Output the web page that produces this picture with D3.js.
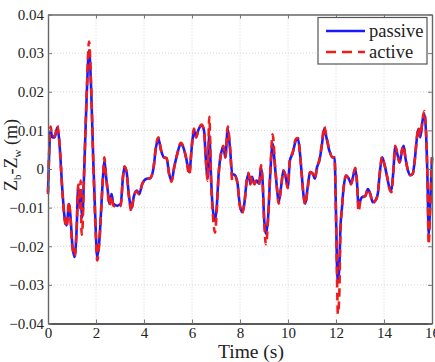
<!DOCTYPE html>
<html>
<head>
<meta charset="utf-8">
<script src="https://cdn.jsdelivr.net/npm/d3@7"></script>
<style>
  body { margin: 0; background: #fff; }
</style>
</head>
<body>
<div id="chart"></div>
<script>
// sample times (s)
var times = [0, 0.11, 0.18, 0.28, 0.39, 0.46, 0.6, 0.69, 0.78, 0.875, 0.94, 1.01, 1.11, 1.19, 1.26, 1.32, 1.36, 1.4, 1.43, 1.5,
  1.61, 1.71, 1.8, 1.89, 1.99, 2.05, 2.15, 2.22, 2.3, 2.35, 2.42, 2.49, 2.56, 2.65, 2.72, 2.89, 3.03, 3.125, 3.19, 3.28,
  3.35, 3.42, 3.47, 3.58, 3.7, 3.8, 3.93, 4.11, 4.25, 4.39, 4.5, 4.6, 4.71, 4.83, 4.94, 5.05, 5.15, 5.26, 5.39, 5.53,
  5.64, 5.75, 5.89, 5.99, 6.08, 6.17, 6.26, 6.4, 6.5, 6.58, 6.65, 6.72, 6.8, 6.86, 6.96, 7.03, 7.11, 7.21, 7.31, 7.39,
  7.49, 7.58, 7.68, 7.79, 7.9, 7.97, 8.08, 8.18, 8.28, 8.36, 8.43, 8.5, 8.6, 8.69, 8.8, 8.875, 8.94, 9.01, 9.08, 9.18,
  9.26, 9.36, 9.46, 9.54, 9.61, 9.71, 9.81, 9.89, 9.99, 10.08, 10.19, 10.33, 10.42, 10.5, 10.58, 10.65, 10.72, 10.82, 10.92, 11.03,
  11.12, 11.21, 11.31, 11.4, 11.51, 11.6, 11.72, 11.86, 11.94, 12.0, 12.04, 12.08, 12.14, 12.18, 12.25, 12.32, 12.42, 12.53, 12.63, 12.71,
  12.8, 12.87, 12.94, 13.01, 13.08, 13.22, 13.33, 13.43, 13.53, 13.64, 13.74, 13.82, 13.92, 14.01, 14.13, 14.22, 14.31, 14.38, 14.47, 14.57,
  14.65, 14.75, 14.82, 14.89, 15.0, 15.1, 15.2, 15.28, 15.375, 15.44, 15.51, 15.61, 15.68, 15.75, 15.82, 15.86, 15.92, 16.0];

// Zb - Zw (m), passive suspension
var passive = [-0.006, 0.01, 0.0082, 0.0082, 0.0108, 0.008, -0.0056, -0.0125, -0.0146, -0.009, -0.0125, -0.0193, -0.0228, -0.016, -0.0047, -0.009, -0.0056, -0.011, -0.0125, -0.002,
  0.0186, 0.0307, 0.0203, 0.0014, -0.016, -0.0228, -0.0177, -0.0099, -0.0012, 0.0022, -0.002, -0.0056, -0.009, -0.0065, -0.009, -0.0095, -0.009, -0.002, 0.0005, -0.001,
  -0.0056, -0.009, -0.0103, -0.007, -0.0056, -0.0065, -0.0038, -0.0025, -0.0024, 0.0, 0.0056, 0.0078, 0.0048, 0.003, 0.0028, -0.0013, -0.003, 0.0005, 0.004, 0.0065,
  0.0056, 0.003, -0.0008, 0.0056, 0.01, 0.0082, 0.01, 0.0113, 0.01, 0.0022, -0.0025, 0.009, -0.003, -0.0099, -0.0133, -0.0099, -0.0013, 0.004, 0.0056, 0.003,
  0.0104, 0.0056, -0.0013, -0.0016, -0.0038, -0.0082, -0.0112, -0.009, -0.003, -0.0013, -0.0038, -0.002, -0.0038, -0.003, -0.0038, 0.0005, -0.003, -0.0133, -0.0168, -0.0116,
  -0.0013, 0.0065, 0.0005, -0.005, -0.0086, -0.0047, -0.0004, -0.0016, -0.0047, 0.0022, 0.004, 0.0074, 0.0078, 0.004, -0.002, -0.007, -0.009, -0.0047, -0.0008, -0.0012,
  -0.0025, 0.0005, 0.0022, 0.0056, 0.0104, 0.0082, 0.0048, 0.003, 0.003, -0.0116, -0.0246, -0.0289, -0.0255, -0.016, -0.0099, -0.0047, -0.0017, -0.0025, -0.0038, -0.002,
  0.0, -0.003, -0.0095, -0.0082, -0.0073, -0.007, -0.0052, -0.0065, -0.0086, -0.0082, -0.0065, -0.0013, 0.003, 0.0014, -0.002, -0.0047, -0.0055, -0.0013, 0.0056, 0.0035,
  0.0017, 0.0048, 0.006, 0.003, -0.0004, -0.0016, -0.0012, 0.0022, 0.0082, 0.0104, 0.0082, 0.0126, 0.0143, 0.0095, -0.0047, -0.0168, -0.0099, 0.003];

// Zb - Zw (m), active suspension
var active = [-0.0065, 0.011, 0.0085, 0.0085, 0.0112, 0.008, -0.006, -0.013, -0.015, -0.0085, -0.013, -0.02, -0.0225, -0.016, -0.004, -0.01, -0.003, -0.017, -0.016, -0.002,
  0.019, 0.033, 0.021, 0.001, -0.017, -0.0237, -0.018, -0.01, -0.001, 0.003, -0.002, -0.006, -0.0095, -0.007, -0.0095, -0.0098, -0.0095, -0.002, 0.0007, -0.001,
  -0.006, -0.0095, -0.011, -0.007, -0.0058, -0.0065, -0.0038, -0.0025, -0.0024, 0.0, 0.006, 0.0082, 0.005, 0.003, 0.0028, -0.0015, -0.0033, 0.0005, 0.004, 0.0068,
  0.0058, 0.003, -0.0015, 0.006, 0.0105, 0.0082, 0.01, 0.0115, 0.01, 0.002, -0.003, 0.0135, -0.004, -0.011, -0.0165, -0.011, -0.0015, 0.004, 0.006, 0.003,
  0.011, 0.006, -0.003, -0.002, -0.004, -0.0085, -0.0115, -0.009, -0.003, -0.001, -0.004, -0.002, -0.004, -0.003, -0.004, 0.001, -0.003, -0.014, -0.0195, -0.012,
  -0.001, 0.009, 0.001, -0.005, -0.009, -0.005, -0.0004, -0.0016, -0.005, 0.0025, 0.0042, 0.0078, 0.008, 0.004, -0.002, -0.007, -0.0092, -0.005, -0.0008, -0.0012,
  -0.0025, 0.0005, 0.0025, 0.006, 0.011, 0.0085, 0.005, 0.003, 0.003, -0.012, -0.027, -0.0375, -0.032, -0.018, -0.01, -0.0047, -0.0017, -0.0025, -0.004, -0.002,
  0.0003, -0.003, -0.011, -0.0085, -0.0075, -0.007, -0.0052, -0.0065, -0.0088, -0.0082, -0.0065, -0.0013, 0.0032, 0.0014, -0.002, -0.005, -0.006, -0.0013, 0.006, 0.0035,
  0.0017, 0.005, 0.006, 0.003, -0.0004, -0.0016, -0.0012, 0.0022, 0.0085, 0.0108, 0.0085, 0.013, 0.015, 0.01, -0.005, -0.0195, -0.011, 0.003];

var xTicks = [0, 2, 4, 6, 8, 10, 12, 14, 16];
var yTicks = [-0.04, -0.03, -0.02, -0.01, 0, 0.01, 0.02, 0.03, 0.04];
var seriesNames = ["passive", "active"];

var serif = "'Liberation Serif', 'Times New Roman', Times, 'DejaVu Serif', serif";
var width = 435, height = 362;
var margin = {top: 14.5, right: 3, bottom: 38.5, left: 48};

var svg = d3.select("#chart").append("svg")
    .attr("width", width)
    .attr("height", height)
    .style("font-family", serif);

var x = d3.scaleLinear().domain([0, 16]).range([margin.left, width - margin.right]);
var y = d3.scaleLinear().domain([-0.04, 0.04]).range([height - margin.bottom, margin.top]);

// dotted grid
svg.append("g").selectAll("line.gx")
    .data(xTicks.slice(1, -1))
    .enter().append("line")
    .attr("x1", d => x(d)).attr("x2", d => x(d))
    .attr("y1", y(-0.04)).attr("y2", y(0.04))
    .attr("stroke", "#d4d4d4").attr("stroke-dasharray", "1,2");
svg.append("g").selectAll("line.gy")
    .data(yTicks.slice(1, -1))
    .enter().append("line")
    .attr("x1", x(0)).attr("x2", x(16))
    .attr("y1", d => y(d)).attr("y2", d => y(d))
    .attr("stroke", "#d4d4d4").attr("stroke-dasharray", "1,2");

// the two curves
var line = d3.line()
    .x((d, i) => x(times[i]))
    .y(d => y(d))
    .curve(d3.curveMonotoneX);

svg.append("path")
    .datum(passive)
    .attr("d", line)
    .attr("fill", "none")
    .attr("stroke", "#1a1aff")
    .attr("stroke-width", 2.6)
    .attr("stroke-linejoin", "round");

svg.append("path")
    .datum(active)
    .attr("d", line)
    .attr("fill", "none")
    .attr("stroke", "#ee1c1c")
    .attr("stroke-width", 2.6)
    .attr("stroke-dasharray", "8,5");

// axes, ticks pointing inward
var xAxis = svg.append("g")
    .attr("transform", "translate(0," + y(-0.04) + ")")
    .call(d3.axisBottom(x).tickValues(xTicks).tickFormat(d3.format("d")).tickSizeInner(-4).tickSizeOuter(0).tickPadding(4));
var yAxis = svg.append("g")
    .attr("transform", "translate(" + x(0) + ",0)")
    .call(d3.axisLeft(y).tickValues(yTicks).tickFormat(d => d === 0 ? "0" : d3.format(".2f")(d)).tickSizeInner(-4).tickSizeOuter(0).tickPadding(4));

// mirror ticks on top and right
svg.append("g")
    .attr("transform", "translate(0," + y(0.04) + ")")
    .call(d3.axisTop(x).tickValues(xTicks).tickFormat("").tickSizeInner(-4).tickSizeOuter(0));
svg.append("g")
    .attr("transform", "translate(" + x(16) + ",0)")
    .call(d3.axisRight(y).tickValues(yTicks).tickFormat("").tickSizeInner(-4).tickSizeOuter(0));

svg.selectAll(".domain").attr("stroke", "#666").attr("stroke-width", 1.4);
svg.selectAll(".tick line").attr("stroke", "#777");
svg.selectAll(".tick text")
    .style("font-family", serif)
    .attr("font-size", 15)
    .attr("fill", "#222");
xAxis.select(".domain").attr("stroke", "#222");

// axis titles
svg.append("text")
    .attr("x", 251).attr("y", 358)
    .attr("text-anchor", "middle")
    .style("font-family", serif)
    .attr("font-size", 19.5)
    .attr("fill", "#222")
    .text("Time (s)");

var yl = svg.append("text")
    .attr("transform", "translate(17,155) rotate(-90)")
    .attr("text-anchor", "middle")
    .style("font-family", serif)
    .attr("font-size", 18)
    .attr("fill", "#222");
yl.append("tspan").text("Z");
yl.append("tspan").attr("font-size", 11).attr("dy", 4).text("b");
yl.append("tspan").attr("dy", -4).text("-Z");
yl.append("tspan").attr("font-size", 11).attr("dy", 4).text("w");
yl.append("tspan").attr("dy", -4).text(" (m)");

// legend
var legend = svg.append("g").attr("transform", "translate(318,17.5)");
legend.append("rect")
    .attr("width", 109).attr("height", 46.5)
    .attr("fill", "#fff").attr("stroke", "#555").attr("stroke-width", 1.2);
var item = legend.selectAll("g.item")
    .data(seriesNames)
    .enter().append("g")
    .attr("transform", (d, i) => "translate(0," + (13.5 + i * 21) + ")");
item.append("line")
    .attr("x1", 8).attr("x2", 47)
    .attr("stroke", (d, i) => i === 0 ? "#1a1aff" : "#ee1c1c")
    .attr("stroke-width", 2.6)
    .attr("stroke-dasharray", (d, i) => i === 0 ? null : "10,6");
item.append("text")
    .attr("x", 51).attr("y", 5.5)
    .style("font-family", serif)
    .attr("font-size", 18.5)
    .attr("fill", "#222")
    .text(d => d);
</script>
</body>
</html>
